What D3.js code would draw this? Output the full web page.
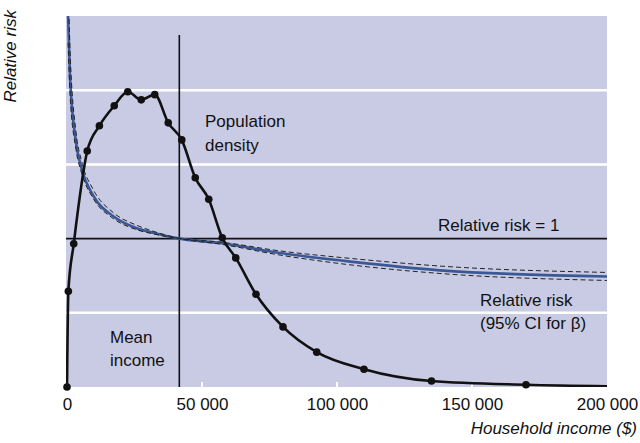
<!DOCTYPE html>
<html>
<head>
<meta charset="utf-8">
<script src="https://cdn.jsdelivr.net/npm/d3@7"></script>
<style>
  body { margin: 0; background: #fff; }
  text { font-family: "Liberation Sans", Arial, sans-serif; fill: #111; }
</style>
</head>
<body>
<div id="canvas"></div>
<script>
var w = 640;
var h = 443;

//INCOME POINTS OF THE POPULATION DENSITY CURVE
var densityIncome = [0, 500, 2500, 7500, 12000, 17500, 22500, 27500, 32500, 37500, 42500, 47500, 52500, 57500, 62500, 70000, 80000, 92500, 110000, 135000, 170000, 200000];
var densityValue = [0, 1.29, 1.93, 3.18, 3.52, 3.79, 3.98, 3.87, 3.94, 3.56, 3.33, 2.82, 2.53, 2.01, 1.74, 1.25, 0.81, 0.47, 0.24, 0.08, 0.03, 0.01];
//THE LAST POINT HAS NO DOT, THE LINE JUST RUNS TO THE EDGE
var densityDots = densityIncome.length - 1;

//RELATIVE RISK CURVE AND ITS 95% CI FOR BETA
var rrIncome = [400, 1100, 3330, 5440, 9740, 17150, 25800, 31850, 41850, 56670, 78900, 105900, 138100, 200000];
var rrMid = [2.50, 2.10, 1.65, 1.47, 1.29, 1.15, 1.07, 1.04, 1.00, 0.97, 0.903, 0.843, 0.786, 0.745];
var rrSteep = [2.75, 2.28, 1.72, 1.52, 1.33, 1.175, 1.09, 1.05, 1.00, 0.963, 0.889, 0.821, 0.765, 0.718];
var rrFlat = [2.32, 1.98, 1.60, 1.44, 1.27, 1.135, 1.06, 1.032, 1.00, 0.977, 0.917, 0.865, 0.815, 0.772];

var meanIncome = 41600;
var xTicks = [0, 50000, 100000, 150000, 200000];
var gridLevels = [0.5, 1.5, 2.0];

//PLOT BOX (window.top IS READ ONLY SO NO "top" HERE)
var pLeft = 66, pRight = 607, pTop = 16, pBottom = 387;

var x = d3.scaleLinear().domain([0, 200000]).range([67, pRight]);
var y = d3.scaleLinear().domain([0, 2.5]).range([pBottom, pTop]);
var yDensity = d3.scaleLinear().domain([0, 5]).range([pBottom, pTop]);

const svg = d3.select("#canvas")
    .append("svg")
    .attr("width", w)
    .attr("height", h);

svg.append("clipPath")
    .attr("id", "plot")
    .append("rect")
    .attr("x", pLeft)
    .attr("y", pTop)
    .attr("width", pRight - pLeft)
    .attr("height", pBottom - pTop);

//BACKGROUND
svg.append("rect")
    .attr("x", pLeft)
    .attr("y", pTop)
    .attr("width", pRight - pLeft)
    .attr("height", pBottom - pTop)
    .attr("fill", "#c9cbe4");

//WHITE GRID LINES
svg.selectAll(".grid")
    .data(gridLevels)
    .enter()
    .append("line")
    .attr("x1", pLeft)
    .attr("x2", pRight)
    .attr("y1", d => y(d))
    .attr("y2", d => y(d))
    .attr("stroke", "white")
    .attr("stroke-width", 2.5);

//X AXIS
var xAxis = d3.axisBottom(x)
    .tickValues(xTicks)
    .tickSize(0)
    .tickPadding(11)
    .tickFormat(d => d3.format(",")(d).replace(/,/g, " "));

var axisG = svg.append("g")
    .attr("transform", "translate(0," + pBottom + ")")
    .call(xAxis);
axisG.select(".domain").remove();
axisG.selectAll("text")
    .style("font-size", "17px")
    .style("font-family", "'Liberation Sans', Arial, sans-serif")
    .attr("fill", "#111");

//SMALL WHITE TICKS INSIDE THE PLOT
svg.selectAll(".tickmark")
    .data(xTicks.slice(1, -1))
    .enter()
    .append("line")
    .attr("x1", d => x(d))
    .attr("x2", d => x(d))
    .attr("y1", pBottom - 5)
    .attr("y2", pBottom)
    .attr("stroke", "white")
    .attr("stroke-width", 2);

//RELATIVE RISK = 1 LINE
svg.append("line")
    .attr("x1", pLeft)
    .attr("x2", pRight)
    .attr("y1", y(1))
    .attr("y2", y(1))
    .attr("stroke", "#111")
    .attr("stroke-width", 1.6);

//MEAN INCOME LINE
svg.append("line")
    .attr("x1", x(meanIncome))
    .attr("x2", x(meanIncome))
    .attr("y1", 35)
    .attr("y2", pBottom)
    .attr("stroke", "#111")
    .attr("stroke-width", 1.6);

var plotG = svg.append("g").attr("clip-path", "url(#plot)");

function rrLine(values) {
    return d3.line()
        .x((d, i) => x(rrIncome[i]))
        .y((d, i) => y(values[i]))
        .curve(d3.curveMonotoneX)(values);
}

//RELATIVE RISK CURVES
plotG.append("path")
    .attr("d", rrLine(rrMid))
    .attr("fill", "none")
    .attr("stroke", "#3b5896")
    .attr("stroke-width", 2.6);

[rrSteep, rrFlat].forEach(function(ci) {
    plotG.append("path")
        .attr("d", rrLine(ci))
        .attr("fill", "none")
        .attr("stroke", "#222")
        .attr("stroke-width", 1)
        .attr("stroke-dasharray", "5,3");
});

//POPULATION DENSITY
var densityLine = d3.line()
    .x((d, i) => x(densityIncome[i]))
    .y(d => yDensity(d))
    .curve(d3.curveMonotoneX);

plotG.append("path")
    .attr("d", densityLine(densityValue))
    .attr("fill", "none")
    .attr("stroke", "#111")
    .attr("stroke-width", 2.6);

svg.selectAll(".dot")
    .data(densityValue.slice(0, densityDots))
    .enter()
    .append("circle")
    .attr("cx", (d, i) => x(densityIncome[i]))
    .attr("cy", d => yDensity(d))
    .attr("r", 3.8)
    .attr("fill", "#111");

//LABELS
function label(tx, ty, str, anchor) {
    svg.append("text")
        .attr("x", tx)
        .attr("y", ty)
        .attr("text-anchor", anchor || "start")
        .style("font-size", "17px")
        .text(str);
}

label(205, 127, "Population");
label(205, 151, "density");
label(438, 231, "Relative risk = 1");
label(480, 306, "Relative risk");
label(480, 329, "(95% CI for \u03b2)");
label(110, 343, "Mean");
label(110, 366, "income");

svg.append("text")
    .attr("x", 637)
    .attr("y", 434)
    .attr("text-anchor", "end")
    .style("font-size", "17px")
    .style("font-style", "italic")
    .text("Household income ($)");

svg.append("text")
    .attr("transform", "translate(16,10) rotate(-90)")
    .attr("text-anchor", "end")
    .style("font-size", "17px")
    .style("font-style", "italic")
    .text("Relative risk");
</script>
</body>
</html>
